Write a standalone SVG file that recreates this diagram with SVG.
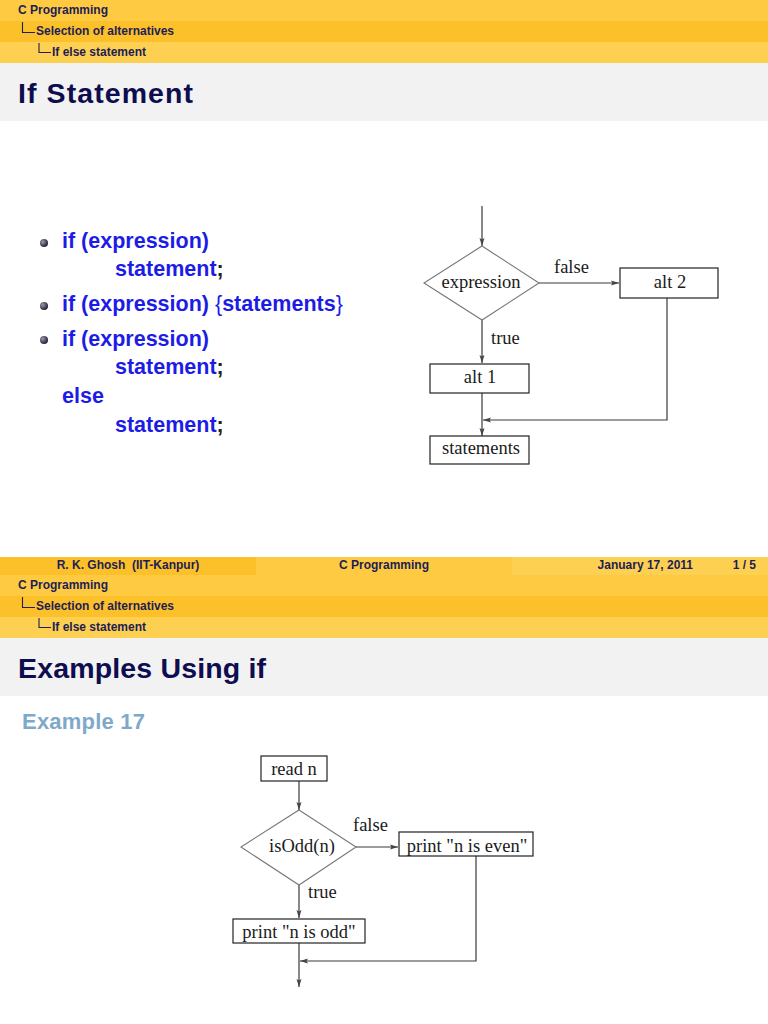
<svg xmlns="http://www.w3.org/2000/svg" width="768" height="1024" viewBox="0 0 768 1024">
<defs>
<style>
.hd{font-family:"Liberation Sans",Arial,sans-serif;font-weight:bold;font-size:12px;fill:#1e1e55}
.tt{font-family:"Liberation Sans",Arial,sans-serif;font-weight:bold;font-size:28.5px;fill:#0d0d4f}
.bl{font-family:"Liberation Sans",Arial,sans-serif;font-weight:bold;font-size:21.5px;fill:#1c1ce6}
.fc{font-family:"Liberation Serif","Times New Roman",serif;font-size:18.5px;fill:#1a1a1a}
.ln{fill:none;stroke:#3a3a3a;stroke-width:1.2}
.bx{fill:#ffffff;stroke:#222;stroke-width:1.2}
.dm{fill:#ffffff;stroke:#777;stroke-width:1.1}
.tree{fill:none;stroke:#1e1e55;stroke-width:1.1}
</style>
<marker id="ah" markerUnits="userSpaceOnUse" markerWidth="9" markerHeight="6" refX="8" refY="3" orient="auto">
<path d="M0,0.5 L8,3 L0,5.5 L1.5,3 z" fill="#444"/>
</marker>
<radialGradient id="ball" cx="0.35" cy="0.35" r="0.7">
<stop offset="0" stop-color="#9a9ab0"/>
<stop offset="1" stop-color="#1a1a2a"/>
</radialGradient>
</defs>
<rect width="768" height="1024" fill="#ffffff"/>

<!-- Slide 1 header -->
<g id="header1">
<rect x="0" y="0" width="768" height="21" fill="#fdca42"/>
<rect x="0" y="21" width="768" height="21" fill="#fcc02a"/>
<rect x="0" y="42" width="768" height="21" fill="#fdd052"/>
<text class="hd" x="18" y="14">C Programming</text>
<path class="tree" d="M22.5,22 V32.5 H35"/>
<text class="hd" x="36" y="35">Selection of alternatives</text>
<path class="tree" d="M39,43 V52.5 H51"/>
<text class="hd" x="52" y="56">If else statement</text>
<rect x="0" y="63" width="768" height="58" fill="#f2f2f2"/>
<text class="tt" x="18" y="103" textLength="175" lengthAdjust="spacing">If Statement</text>
</g>

<!-- Bullets -->
<g id="bullets">
<circle cx="44" cy="243" r="4" fill="url(#ball)"/>
<text class="bl" x="62" y="248">if (expression)</text>
<text class="bl" x="115" y="276">statement<tspan fill="#222">;</tspan></text>
<circle cx="44" cy="306" r="4" fill="url(#ball)"/>
<text class="bl" x="62" y="311">if (expression) <tspan font-weight="normal">{</tspan>statements<tspan font-weight="normal">}</tspan></text>
<circle cx="44" cy="340" r="4" fill="url(#ball)"/>
<text class="bl" x="62" y="346">if (expression)</text>
<text class="bl" x="115" y="374">statement<tspan fill="#222">;</tspan></text>
<text class="bl" x="62" y="403">else</text>
<text class="bl" x="115" y="432">statement<tspan fill="#222">;</tspan></text>
</g>

<!-- Flowchart 1 -->
<g id="connectors1">
<line class="ln" x1="482" y1="206" x2="482" y2="246" marker-end="url(#ah)"/>
<line class="ln" x1="539" y1="283" x2="619" y2="283" marker-end="url(#ah)"/>
<line class="ln" x1="482" y1="320" x2="482" y2="363" marker-end="url(#ah)"/>
<line class="ln" x1="482" y1="393" x2="482" y2="436" marker-end="url(#ah)"/>
<polyline class="ln" points="667,298 667,420 483,420" marker-end="url(#ah)"/>
<text class="fc" x="554" y="273">false</text>
<text class="fc" x="491" y="344">true</text>
</g>
<g id="expression">
<polygon class="dm" points="482,246 539,283 482,320 424,283"/>
<text class="fc" x="481" y="288" text-anchor="middle">expression</text>
</g>
<g id="alt2">
<rect class="bx" x="620" y="268" width="98" height="30"/>
<text class="fc" x="670" y="288" text-anchor="middle">alt 2</text>
</g>
<g id="alt1">
<rect class="bx" x="430" y="364" width="99" height="29"/>
<text class="fc" x="480" y="383" text-anchor="middle">alt 1</text>
</g>
<g id="statements">
<rect class="bx" x="430" y="436" width="99" height="28"/>
<text class="fc" x="481" y="454" text-anchor="middle">statements</text>
</g>

<!-- Footer -->
<g id="footer">
<rect x="0" y="557" width="256" height="18" fill="#fcc02a"/>
<rect x="256" y="557" width="256" height="18" fill="#fdca42"/>
<rect x="512" y="557" width="256" height="18" fill="#fdd052"/>
<text class="hd" x="128" y="569" text-anchor="middle" font-size="11.5" xml:space="preserve">R. K. Ghosh  (IIT-Kanpur)</text>
<text class="hd" x="384" y="569" text-anchor="middle" font-size="11.5">C Programming</text>
<text class="hd" x="693" y="569" text-anchor="end" font-size="11.5">January 17, 2011</text>
<text class="hd" x="756" y="569" text-anchor="end" font-size="11.5">1 / 5</text>
</g>

<!-- Slide 2 header -->
<g id="header2">
<rect x="0" y="575" width="768" height="21" fill="#fdca42"/>
<rect x="0" y="596" width="768" height="21" fill="#fcc02a"/>
<rect x="0" y="617" width="768" height="21" fill="#fdd052"/>
<text class="hd" x="18" y="589">C Programming</text>
<path class="tree" d="M22.5,597 V607.5 H35"/>
<text class="hd" x="36" y="610">Selection of alternatives</text>
<path class="tree" d="M39,618 V627.5 H51"/>
<text class="hd" x="52" y="631">If else statement</text>
<rect x="0" y="638" width="768" height="58" fill="#f2f2f2"/>
<text class="tt" x="18" y="678" textLength="248" lengthAdjust="spacing">Examples Using if</text>
<text x="22" y="729" font-family="Liberation Sans, Arial, sans-serif" font-weight="bold" font-size="22" fill="#7fa9c9" textLength="123" lengthAdjust="spacing">Example 17</text>
</g>

<!-- Flowchart 2 -->
<g id="connectors2">
<line class="ln" x1="299" y1="781" x2="299" y2="810" marker-end="url(#ah)"/>
<line class="ln" x1="356" y1="847" x2="398" y2="847" marker-end="url(#ah)"/>
<line class="ln" x1="299" y1="885" x2="299" y2="918" marker-end="url(#ah)"/>
<line class="ln" x1="299" y1="943" x2="299" y2="987" marker-end="url(#ah)"/>
<polyline class="ln" points="476,856 476,961 300,961" marker-end="url(#ah)"/>
<text class="fc" x="353" y="831">false</text>
<text class="fc" x="308" y="898">true</text>
</g>
<g id="readn">
<rect class="bx" x="261" y="756" width="66" height="25"/>
<text class="fc" x="294" y="775" text-anchor="middle">read n</text>
</g>
<g id="isodd">
<polygon class="dm" points="299,810 356,847 299,885 241,847"/>
<text class="fc" x="302" y="852" text-anchor="middle">isOdd(n)</text>
</g>
<g id="printeven">
<rect class="bx" x="399" y="832" width="134" height="24"/>
<text class="fc" x="467" y="852" text-anchor="middle">print "n is even"</text>
</g>
<g id="printodd">
<rect class="bx" x="233" y="919" width="132" height="24"/>
<text class="fc" x="299" y="938" text-anchor="middle">print "n is odd"</text>
</g>
</svg>
